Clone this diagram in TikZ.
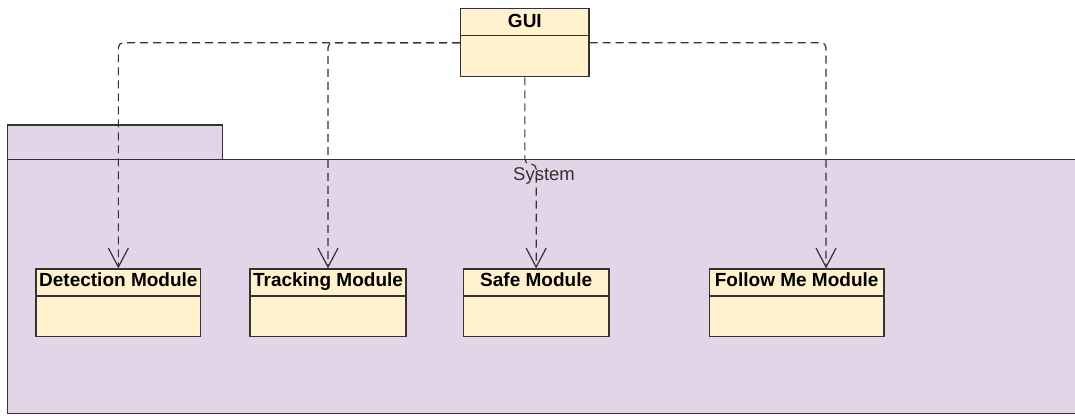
\documentclass[tikz,border=0pt]{standalone}
\usepackage{fontspec}
\setmainfont{Liberation Sans}
\usetikzlibrary{arrows.meta,calc}
\definecolor{pkgfill}{HTML}{E1D5E7}
\definecolor{boxfill}{HTML}{FFF2CC}
\definecolor{edge}{HTML}{333333}
\tikzset{
  pkgshape/.style={draw=edge, fill=pkgfill, line width=1.3pt},
  classbox/.style={draw=edge, fill=boxfill, line width=1.3pt, rectangle, inner sep=0pt},
  classlabel/.style={font=\fontsize{19}{21}\selectfont\bfseries, text=black, inner sep=0pt},
  dep/.style={draw=edge, line width=1.2pt, dash pattern=on 8pt off 5pt, rounded corners=5pt,
    -{Straight Barb[length=19pt,width=20pt,line width=1.2pt]}},
}
\begin{document}
\begin{tikzpicture}[x=1pt,y=-1pt]
\clip (0,0) rectangle (1075,415);
\fill[white] (0,0) rectangle (1075,415);
% package
\draw[pkgshape] (7.3,125) rectangle (222.7,159.3);
\draw[pkgshape] (7.3,159.3) rectangle (1090,413.3);
\coordinate (pkgtab) at (115,142);
% GUI
\node[classbox, minimum width=128.3pt, minimum height=68pt] (gui) at (524.85,42.7) {};
\draw[draw=edge, line width=1.3pt] ([yshift=-27.3pt]gui.north west) -- ([yshift=-27.3pt]gui.north east);
\node[classlabel, anchor=base] (guit) at ([yshift=-19.5pt]gui.north) {GUI};
% modules
\node[classbox, minimum width=164.7pt, minimum height=67.7pt] (det) at (118.35,302.85) {};
\node[classbox, minimum width=156pt, minimum height=67.7pt] (trk) at (328,302.85) {};
\node[classbox, minimum width=145.7pt, minimum height=67.7pt] (safe) at (536.15,302.85) {};
\node[classbox, minimum width=174.7pt, minimum height=67.7pt] (follow) at (796.65,302.85) {};
\foreach \n in {det,trk,safe,follow}{
  \draw[draw=edge, line width=1.3pt] ([yshift=-27.7pt]\n.north west) -- ([yshift=-27.7pt]\n.north east);
}
\node[classlabel, anchor=base] (dett) at ([yshift=-18.5pt]det.north) {Detection Module};
\node[classlabel, anchor=base] (trkt) at ([yshift=-18.5pt]trk.north) {Tracking Module};
\node[classlabel, anchor=base] (safet) at ([yshift=-18.5pt]safe.north) {Safe Module};
\node[classlabel, anchor=base] (followt) at ([yshift=-18.5pt]follow.north) {Follow Me Module};
% connectors
\draw[dep] (gui.west) -| (det.north);
\draw[dep] (gui.west) -| (trk.north);
\draw[dep] (gui.south) -- (524.85,164) -- (536.15,164) -- (safe.north);
\coordinate (fmin) at ([xshift=117.4pt]follow.north west);
\draw[dep] (gui.east) -| (fmin);
% package label
\node[anchor=base, font=\fontsize{18.5}{20}\selectfont, text=edge, inner sep=0pt] (sys) at (544,180) {System};
\end{tikzpicture}
\end{document}
